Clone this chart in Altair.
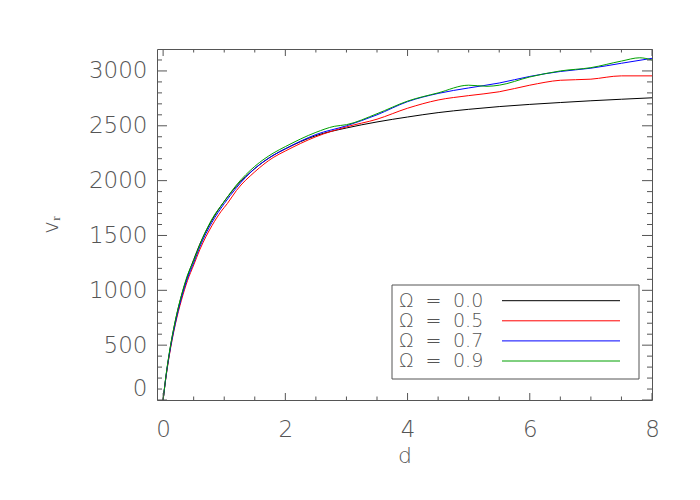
import altair as alt
import pandas as pd

# ---------------- data ----------------
omega_labels = ["0.0", "0.5", "0.7", "0.9"]
line_colors = ["#000000", "#ff0000", "#0000ff", "#00a000"]

d_black = [0, 0.05, 0.1, 0.2, 0.3, 0.4, 0.5, 0.6, 0.8, 1.0, 1.2, 1.5, 1.8, 2.0, 2.5, 3.0, 3.5, 4.0, 4.5, 5.0, 5.5, 6.0, 6.5, 7.0, 7.5, 8.0]
v_black = [0, 230, 420, 720, 950, 1130, 1280, 1420, 1640, 1810, 1950, 2110, 2230, 2290, 2410, 2480, 2535, 2580, 2620, 2650, 2675, 2695, 2712, 2728, 2742, 2755]

d_red = [0, 0.05, 0.1, 0.2, 0.3, 0.4, 0.5, 0.6, 0.8, 0.95, 1.05, 1.2, 1.5, 1.8, 2.0, 2.5, 3.0, 3.5, 4.0, 4.5, 5.0, 5.5, 6.0, 6.5, 7.0, 7.5, 8.0]
v_red = [0, 220, 400, 690, 910, 1090, 1230, 1370, 1590, 1720, 1790, 1910, 2080, 2210, 2270, 2400, 2490, 2560, 2660, 2735, 2775, 2810, 2870, 2915, 2925, 2955, 2955]

d_blue = [0, 0.05, 0.1, 0.2, 0.3, 0.4, 0.5, 0.6, 0.8, 1.0, 1.2, 1.5, 1.8, 2.0, 2.5, 3.0, 3.5, 4.0, 4.5, 5.0, 5.5, 6.0, 6.5, 7.0, 7.5, 8.0]
v_blue = [0, 225, 410, 700, 930, 1110, 1250, 1395, 1620, 1790, 1935, 2110, 2230, 2290, 2420, 2500, 2600, 2720, 2795, 2845, 2890, 2950, 2995, 3025, 3070, 3115]

d_green = [0, 0.05, 0.1, 0.2, 0.3, 0.4, 0.5, 0.6, 0.8, 1.0, 1.2, 1.5, 1.8, 2.0, 2.5, 2.8, 3.0, 3.5, 4.0, 4.5, 5.0, 5.3, 5.5, 6.0, 6.5, 7.0, 7.5, 7.8, 8.0]
v_green = [0, 235, 425, 725, 955, 1140, 1270, 1415, 1650, 1810, 1960, 2130, 2250, 2310, 2440, 2495, 2510, 2610, 2725, 2800, 2870, 2860, 2870, 2945, 3000, 3030, 3090, 3120, 3100]

x_major_ticks = [0, 2, 4, 6, 8]
x_minor_ticks = [0.5, 1, 1.5, 2.5, 3, 3.5, 4.5, 5, 5.5, 6.5, 7, 7.5]
y_major_ticks = [0, 500, 1000, 1500, 2000, 2500, 3000]
y_minor_ticks = [v for v in range(100, 3200, 100) if v % 500 != 0]

# ---------------- build ----------------
series = [(d_black, v_black), (d_red, v_red), (d_blue, v_blue), (d_green, v_green)]
rows = []
for lab, (ds, vs) in zip(omega_labels, series):
    for i, (dd, vv) in enumerate(zip(ds, vs)):
        rows.append({"d": dd, "v": vv, "omega": lab, "i": i})
df = pd.DataFrame(rows)

W, H = 495, 351
FONT = "DejaVu Sans"
GRAY = "#555555"
xs = alt.Scale(domain=[-0.1, 8], nice=False, zero=False)
ys = alt.Scale(domain=[0, 3200], nice=False, zero=False)

x_axis = alt.Axis(values=x_major_ticks, title="d", grid=False, ticks=False, format="d",
                  domain=False, labelPadding=18, titlePadding=4,
                  labelFontSize=23, titleFontSize=22, labelFlush=False)
y_axis = alt.Axis(values=y_major_ticks, title="vᵣ", grid=False, ticks=False, format="d",
                  domain=False, labelPadding=10, titlePadding=26,
                  labelFontSize=23, titleFontSize=22, labelFlush=True)

lines = alt.Chart(df).mark_line(strokeWidth=1, interpolate="monotone", clip=True).encode(
    x=alt.X("d:Q", scale=xs, axis=x_axis),
    y=alt.Y("v:Q", scale=ys, axis=y_axis),
    color=alt.Color("omega:N", scale=alt.Scale(domain=omega_labels, range=line_colors), legend=None),
    order="i:Q",
)

layers = [lines]

def tick_layer(vals, channel, side, length):
    if channel == "x":
        tdf = pd.DataFrame({"d": vals})
        enc = {"x": alt.X("d:Q", scale=xs, axis=x_axis)}
        if side == "bottom":
            enc["y"] = alt.value(H)
            enc["y2"] = alt.value(H - length)
        else:
            enc["y"] = alt.value(0)
            enc["y2"] = alt.value(length)
    else:
        tdf = pd.DataFrame({"v": vals})
        enc = {"y": alt.Y("v:Q", scale=ys, axis=y_axis)}
        if side == "left":
            enc["x"] = alt.value(0)
            enc["x2"] = alt.value(length)
        else:
            enc["x"] = alt.value(W)
            enc["x2"] = alt.value(W - length)
    return alt.Chart(tdf).mark_rule(color=GRAY, strokeWidth=1).encode(**enc)

for side in ["bottom", "top"]:
    layers.append(tick_layer(x_major_ticks, "x", side, 7))
    layers.append(tick_layer(x_minor_ticks, "x", side, 3.5))
for side in ["left", "right"]:
    layers.append(tick_layer(y_major_ticks, "y", side, 10))
    layers.append(tick_layer(y_minor_ticks, "y", side, 5))

one = pd.DataFrame({"a": [0]})
box = alt.Chart(one).mark_rect(fill="white", stroke=GRAY, strokeWidth=1).encode(
    x=alt.value(235), x2=alt.value(482), y=alt.value(236), y2=alt.value(330))
layers.append(box)

for k, (lab, col) in enumerate(zip(omega_labels, line_colors)):
    yy = 251.7 + 20.1 * k
    txt = dict(baseline="middle", font=FONT, fontSize=19, fontWeight=200, color=GRAY)
    layers.append(alt.Chart(one).mark_text(align="left", **txt).encode(
        x=alt.value(242), y=alt.value(yy), text=alt.value("Ω")))
    layers.append(alt.Chart(one).mark_text(align="center", **txt).encode(
        x=alt.value(276.5), y=alt.value(yy), text=alt.value("=")))
    layers.append(alt.Chart(one).mark_text(align="left", **txt).encode(
        x=alt.value(296), y=alt.value(yy), text=alt.value(lab)))
    layers.append(alt.Chart(one).mark_rule(color=col, strokeWidth=1).encode(
        x=alt.value(345), x2=alt.value(463), y=alt.value(yy)))

chart = alt.layer(*layers).properties(
    width=W, height=H, autosize="none",
    padding={"left": 149, "top": 41, "right": 40, "bottom": 92},
).configure_view(stroke=GRAY, strokeWidth=1).configure_axis(
    labelFont=FONT, titleFont=FONT, labelColor=GRAY, titleColor=GRAY,
    labelFontWeight=200, titleFontWeight=200,
)

chart.save("out.html", embed_options={"renderer": "svg", "actions": False})
